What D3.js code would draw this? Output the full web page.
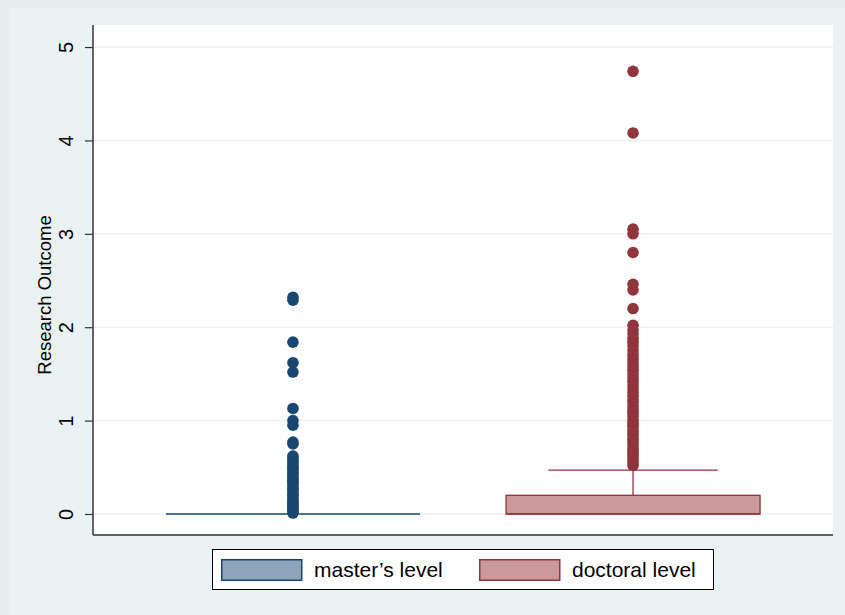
<!DOCTYPE html>
<html>
<head>
<meta charset="utf-8">
<script src="https://cdn.jsdelivr.net/npm/d3@7"></script>
<style>
  html, body { margin: 0; padding: 0; background: #e6eef0; }
  svg { display: block; font-family: "Liberation Sans", Arial, sans-serif; }
</style>
</head>
<body>
<div id="chart"></div>
<script>
'use strict'

// groups and box stats
const groups = ["master's level", "doctoral level"]
const q1 = [0, 0]
const median = [0, 0]
const q3 = [0, 0.2]
const whiskerLow = [0, 0]
const whiskerHigh = [0, 0.47]

// outside values
const masterOutliers = [
    0.01, 0.03, 0.05, 0.07, 0.09, 0.11, 0.13, 0.15, 0.17, 0.2, 0.22, 0.25,
    0.27, 0.29, 0.32, 0.34, 0.36, 0.38, 0.41, 0.43, 0.45, 0.48, 0.5, 0.52,
    0.55, 0.57, 0.6, 0.62, 0.75, 0.77, 0.95, 1.0, 1.13, 1.52, 1.62, 1.84,
    2.29, 2.32
]
const doctoralOutliers = [
    0.52, 0.55, 0.58, 0.61, 0.64, 0.67, 0.7, 0.74, 0.77, 0.8, 0.84, 0.87,
    0.9, 0.94, 0.97, 1.0, 1.04, 1.08, 1.11, 1.15, 1.19, 1.22, 1.26, 1.3,
    1.34, 1.38, 1.42, 1.46, 1.5, 1.54, 1.58, 1.62, 1.66, 1.7, 1.75, 1.8,
    1.84, 1.88, 1.93, 1.97, 2.02, 2.2, 2.4, 2.46, 2.8, 3.0, 3.05, 4.08, 4.74
]
const outliers = [masterOutliers, doctoralOutliers]

const yTicks = [0, 1, 2, 3, 4, 5]
const yTitle = 'Research Outcome'

const lineColors = ['#1a476f', '#90353b']
const fillColors = ['#8ea4ba', '#c9999c']

////////////////////////////////////
//////////// svg setup /////////////
////////////////////////////////////
const svgWidth = 845
const svgHeight = 615
const plot = { left: 93, right: 833, top: 25, bottom: 535 }

const svg = d3.select('#chart')
    .append('svg')
    .attr('width', svgWidth)
    .attr('height', svgHeight)

// graph region
svg.append('rect')
    .attr('x', 0).attr('y', 0)
    .attr('width', svgWidth).attr('height', svgHeight)
    .attr('fill', '#e6eef0')
svg.append('rect')
    .attr('x', 9).attr('y', 8)
    .attr('width', svgWidth - 9).attr('height', svgHeight - 8)
    .attr('fill', '#eaf2f3')

// plot region
svg.append('rect')
    .attr('x', plot.left).attr('y', plot.top)
    .attr('width', plot.right - plot.left)
    .attr('height', plot.bottom - plot.top)
    .attr('fill', '#ffffff')

////////////////////////////////////
//////////// Scales ////////////////
////////////////////////////////////
const x = d3.scaleBand()
    .domain(groups)
    .range([plot.left, plot.right])
    .paddingInner(0.253)
    .paddingOuter(0.2145)

const y = d3.scaleLinear()
    .domain([-0.225, 5.236])
    .range([plot.bottom, plot.top])

////////////////////////////////////
//////////// Axis //////////////////
////////////////////////////////////
// grid
svg.append('g')
    .selectAll('line')
    .data(yTicks)
    .join('line')
    .attr('x1', plot.left).attr('x2', plot.right)
    .attr('y1', d => y(d)).attr('y2', d => y(d))
    .attr('stroke', '#eaf2f3')
    .attr('stroke-width', 1.5)

const yAxis = d3.axisLeft(y)
    .tickValues(yTicks)
    .tickSize(8)
    .tickPadding(0)
    .tickFormat(d3.format('d'))

const yAxisG = svg.append('g')
    .attr('transform', `translate(${plot.left},0)`)
    .call(yAxis)
yAxisG.attr('font-size', null).attr('font-family', null)
yAxisG.select('.domain').remove()
yAxisG.selectAll('.tick line').attr('stroke', '#333').attr('stroke-width', 1.2)
yAxisG.selectAll('.tick text')
    .attr('x', 0).attr('y', 0)
    .attr('dy', 0)
    .attr('transform', 'translate(-20,0) rotate(-90)')
    .attr('text-anchor', 'middle')
    .style('font-size', '20px')
    .attr('fill', '#000')

// axis lines
svg.append('line')
    .attr('x1', plot.left).attr('x2', plot.left)
    .attr('y1', plot.top).attr('y2', plot.bottom)
    .attr('stroke', '#333').attr('stroke-width', 1.5)
svg.append('line')
    .attr('x1', plot.left).attr('x2', plot.right)
    .attr('y1', plot.bottom).attr('y2', plot.bottom)
    .attr('stroke', '#333').attr('stroke-width', 1.5)

// axis title
svg.append('text')
    .attr('transform', 'translate(51,295) rotate(-90)')
    .attr('text-anchor', 'middle')
    .style('font-size', '18.5px')
    .text(yTitle)

////////////////////////////////////
//////////// boxes /////////////////
////////////////////////////////////
const bw = x.bandwidth()
const boxes = svg.append('g')
    .selectAll('g')
    .data(groups)
    .join('g')

// whisker lines
boxes.append('line')
    .attr('x1', d => x(d) + bw / 2).attr('x2', d => x(d) + bw / 2)
    .attr('y1', (d, i) => y(q3[i])).attr('y2', (d, i) => y(whiskerHigh[i]))
    .attr('stroke', (d, i) => lineColors[i]).attr('stroke-width', 1.3)
boxes.append('line')
    .attr('x1', d => x(d) + bw / 2).attr('x2', d => x(d) + bw / 2)
    .attr('y1', (d, i) => y(q1[i])).attr('y2', (d, i) => y(whiskerLow[i]))
    .attr('stroke', (d, i) => lineColors[i]).attr('stroke-width', 1.3)

// caps (about two thirds of the box width)
boxes.append('line')
    .attr('x1', d => x(d) + bw / 2 - bw / 3).attr('x2', d => x(d) + bw / 2 + bw / 3)
    .attr('y1', (d, i) => y(whiskerHigh[i])).attr('y2', (d, i) => y(whiskerHigh[i]))
    .attr('stroke', (d, i) => lineColors[i]).attr('stroke-width', 1.3)
    .attr('opacity', (d, i) => whiskerHigh[i] > q3[i] ? 1 : 0)
boxes.append('line')
    .attr('x1', d => x(d) + bw / 2 - bw / 3).attr('x2', d => x(d) + bw / 2 + bw / 3)
    .attr('y1', (d, i) => y(whiskerLow[i])).attr('y2', (d, i) => y(whiskerLow[i]))
    .attr('stroke', (d, i) => lineColors[i]).attr('stroke-width', 1.3)
    .attr('opacity', (d, i) => whiskerLow[i] < q1[i] ? 1 : 0)

// box
boxes.append('rect')
    .attr('x', d => x(d))
    .attr('width', bw)
    .attr('y', (d, i) => y(q3[i]))
    .attr('height', (d, i) => y(q1[i]) - y(q3[i]))
    .attr('fill', (d, i) => fillColors[i])
    .attr('stroke', (d, i) => lineColors[i])
    .attr('stroke-width', 1.3)

// median
boxes.append('line')
    .attr('x1', d => x(d)).attr('x2', d => x(d) + bw)
    .attr('y1', (d, i) => y(median[i])).attr('y2', (d, i) => y(median[i]))
    .attr('stroke', (d, i) => lineColors[i]).attr('stroke-width', 1.3)

// outside values
boxes.each(function (d, i) {
    d3.select(this).selectAll('circle')
        .data(outliers[i])
        .join('circle')
        .attr('cx', x(d) + bw / 2)
        .attr('cy', v => y(v))
        .attr('r', 5.8)
        .attr('fill', lineColors[i])
})

////////////////////////////////////
//////////// legend ////////////////
////////////////////////////////////
const legend = svg.append('g')
legend.append('rect')
    .attr('x', 212.5).attr('y', 549.5)
    .attr('width', 501).attr('height', 40)
    .attr('fill', '#fff')
    .attr('stroke', '#000').attr('stroke-width', 1)

const keyX = [221, 479]
const items = legend.selectAll('g.item')
    .data(groups)
    .join('g')
    .attr('class', 'item')
    .attr('transform', (d, i) => `translate(${keyX[i]},559)`)

items.append('rect')
    .attr('x', 0.75).attr('y', 0.75)
    .attr('width', 80).attr('height', 20.5)
    .attr('fill', (d, i) => fillColors[i])
    .attr('stroke', (d, i) => lineColors[i])
    .attr('stroke-width', 1.5)

items.append('text')
    .attr('x', 93).attr('y', 18)
    .style('font-size', '21px')
    .text(d => d.replace("'", '\u2019'))
</script>
</body>
</html>
